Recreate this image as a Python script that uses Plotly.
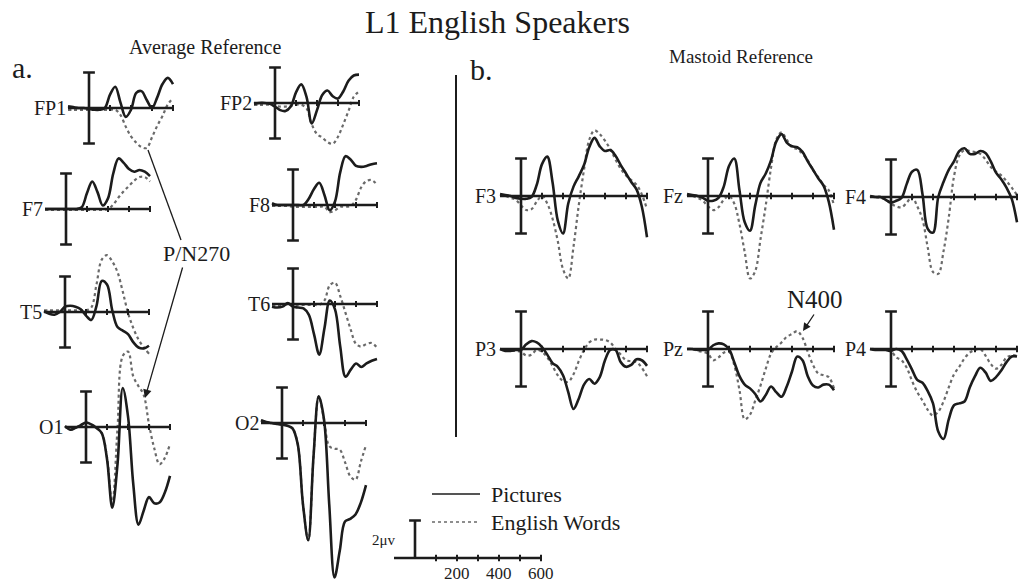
import plotly.graph_objects as go

# ---------- data (microvolts, negative plotted up) ----------
t_avg = list(range(-100, 401, 25))
t_mas = list(range(-100, 601, 25))

# Average reference (Pictures = solid, English Words = dotted)
fp1_pic = [-0.1, -0.05, 0.0, 0.0, 0.05, 0.1, 0.1, 0.0, -0.75, -1.2, -0.3, 0.5, 0.1, -0.85, -0.95, -0.45, 0.0, -0.6, -1.35, -1.7, -1.35]
fp1_wrd = [0.1, 0.1, 0.1, 0.1, 0.1, 0.1, 0.1, 0.1, 0.1, 0.1, 0.4, 1.05, 1.6, 1.95, 2.2, 2.25, 1.65, 1.0, 0.45, -0.2, -0.55]
fp2_pic = [0.05, 0.0, 0.0, 0.05, 0.2, 0.4, 0.45, 0.2, -0.6, -1.05, -0.35, 1.15, 0.4, -0.45, -0.7, -0.38, -0.25, -0.65, -1.25, -1.55, -1.6]
fp2_wrd = [0.1, 0.1, 0.1, 0.1, 0.15, 0.2, 0.2, 0.15, 0.1, 0.1, 0.3, 1.2, 1.75, 1.95, 2.2, 2.3, 1.9, 1.2, 0.45, -0.35, -0.65]
f7_pic = [0.0, 0.0, 0.0, 0.0, 0.0, 0.0, 0.0, -0.1, -0.9, -1.55, -0.95, -0.2, -0.6, -2.0, -2.85, -2.6, -2.25, -2.1, -2.2, -2.1, -1.85]
f7_wrd = [0.05, 0.05, 0.05, 0.05, 0.05, 0.05, 0.05, 0.05, 0.05, 0.05, 0.05, 0.05, 0.0, -0.25, -0.65, -1.0, -1.3, -1.6, -1.8, -1.8, -1.55]
f8_pic = [-0.1, 0.0, 0.0, 0.0, 0.0, 0.0, 0.0, -0.35, -0.9, -1.25, -0.55, 0.3, -0.2, -1.85, -2.75, -2.55, -2.2, -2.15, -2.2, -2.3, -2.35]
f8_wrd = [0.05, 0.05, 0.05, 0.05, 0.1, 0.1, 0.1, 0.1, 0.1, 0.1, 0.1, 0.4, 0.3, 0.1, 0.1, 0.05, -0.3, -1.0, -1.35, -1.4, -1.15]
t5_pic = [-0.05, 0.1, 0.15, 0.0, -0.3, -0.35, -0.3, -0.15, 0.2, 0.45, -0.35, -1.75, -1.55, -0.1, 0.85, 1.05, 1.25, 1.7, 2.0, 2.05, 1.9]
t5_wrd = [-0.1, -0.1, -0.1, -0.1, -0.1, -0.1, -0.1, -0.1, -0.1, -0.25, -1.55, -2.95, -3.2, -2.85, -2.25, -1.15, 0.05, 0.9, 1.55, 2.0, 2.35]
t6_pic = [0.15, 0.2, 0.15, -0.05, 0.15, 0.2, 0.25, 0.6, 1.7, 2.85, 1.35, -0.2, 0.3, 2.4, 4.1, 3.7, 3.35, 3.55, 3.35, 3.2, 3.1]
t6_wrd = [0.1, 0.1, 0.1, 0.0, 0.05, 0.05, 0.05, 0.05, 0.05, 0.05, -0.2, -1.05, -1.2, -0.45, 0.5, 1.45, 2.25, 2.4, 2.25, 2.2, 2.45]
o1_pic = [-0.05, 0.15, 0.05, -0.1, -0.25, -0.15, 0.05, 0.35, 1.8, 4.55, 2.1, -2.2, -0.6, 3.2, 5.5, 4.7, 3.95, 4.3, 4.25, 3.7, 2.75]
o1_wrd = [-0.05, 0.15, 0.05, -0.1, -0.25, -0.15, 0.05, 0.35, 1.7, 4.35, 0.1, -4.0, -4.25, -2.85, -2.3, -1.8, -0.15, 1.2, 2.1, 1.75, 0.95]
o2_pic = [-0.15, -0.05, 0.0, 0.05, 0.1, 0.15, 0.3, 1.2, 4.6, 6.6, 1.9, -1.5, -0.2, 4.6, 8.7, 7.2, 5.55, 5.4, 5.15, 4.5, 3.5]
o2_wrd = [-0.15, -0.05, 0.0, 0.05, 0.1, 0.15, 0.3, 1.2, 4.6, 6.6, 1.9, -1.5, -0.2, 1.3, 1.45, 1.5, 2.2, 3.0, 3.2, 2.2, 1.25]

# Mastoid reference
f3_pic = [-0.1, -0.05, 0.0, 0.1, 0.15, 0.15, 0.05, -0.6, -1.7, -2.1, -0.75, 1.3, 2.0, 0.4, -0.5, -1.05, -1.65, -2.6, -3.1, -2.65, -2.4, -2.45, -2.15, -1.65, -1.2, -0.75, -0.35, 0.55, 2.2]
f3_wrd = [0.0, 0.0, 0.1, 0.2, 0.5, 0.75, 0.7, 0.3, 0.0, 0.4, 1.2, 2.4, 3.9, 4.4, 2.7, 0.5, -1.4, -3.0, -3.5, -3.3, -2.95, -2.5, -1.95, -1.45, -1.1, -0.85, -0.6, -0.1, 0.7]
fz_pic = [-0.1, -0.05, 0.0, 0.1, 0.25, 0.25, 0.1, -0.5, -1.6, -2.0, -0.3, 1.4, 1.85, 0.5, -0.7, -1.2, -1.9, -2.9, -3.3, -2.85, -2.65, -2.6, -2.35, -1.85, -1.4, -0.95, -0.55, 0.3, 1.8]
fz_wrd = [0.0, 0.0, 0.1, 0.25, 0.55, 0.75, 0.6, 0.2, 0.0, 0.4, 1.5, 3.0, 4.4, 4.0, 2.3, 0.5, -1.5, -3.0, -3.4, -3.0, -2.6, -2.5, -2.25, -1.9, -1.4, -1.0, -0.6, -0.3, 0.5]
f4_pic = [-0.05, 0.0, 0.0, 0.15, 0.3, 0.2, 0.05, -0.7, -1.35, -1.45, -0.15, 1.7, 1.9, 0.0, -0.8, -1.45, -1.9, -2.45, -2.6, -2.3, -2.3, -2.45, -2.35, -1.9, -1.3, -0.95, -0.5, 0.1, 1.35]
f4_wrd = [0.0, 0.0, 0.05, 0.15, 0.35, 0.5, 0.55, 0.3, 0.0, 0.5, 1.2, 2.7, 4.0, 4.1, 2.9, 1.1, -1.1, -2.2, -2.5, -2.45, -2.4, -2.3, -2.0, -1.6, -1.35, -1.15, -0.85, -0.5, -0.1]
p3_pic = [0.0, 0.1, 0.1, 0.05, 0.05, -0.25, -0.42, -0.35, -0.1, 0.3, 0.75, 0.95, 1.4, 2.3, 3.2, 2.65, 1.9, 1.6, 1.85, 1.5, 0.6, 0.05, 0.05, 0.7, 0.95, 0.85, 0.55, 0.6, 0.9]
p3_wrd = [0.0, 0.05, 0.1, 0.1, 0.15, 0.35, 0.3, 0.05, 0.15, 0.45, 0.9, 1.4, 1.7, 1.75, 1.35, 0.65, 0.05, -0.35, -0.5, -0.5, -0.48, -0.35, 0.0, 0.3, 0.6, 0.65, 0.7, 1.0, 1.45]
pz_pic = [0.0, 0.0, 0.05, 0.05, 0.05, -0.2, -0.3, -0.25, 0.0, 0.7, 1.45, 1.9, 2.1, 2.4, 2.8, 2.45, 2.0, 2.3, 2.55, 2.0, 1.2, 0.4, 0.6, 1.45, 1.95, 2.05, 1.9, 1.9, 2.2]
pz_wrd = [0.0, 0.0, 0.1, 0.15, 0.25, 0.6, 0.45, 0.2, 0.15, 0.85, 2.2, 3.75, 3.5, 2.75, 1.95, 1.05, 0.25, -0.1, -0.35, -0.65, -0.8, -0.95, -0.6, 0.15, 0.85, 1.3, 1.4, 1.5, 2.1]
p4_pic = [0.0, 0.05, 0.05, 0.05, 0.1, 0.0, 0.1, 0.55, 1.1, 1.65, 1.8, 2.25, 2.9, 4.4, 4.8, 3.75, 3.0, 2.9, 2.8, 2.05, 1.45, 1.0, 1.25, 1.7, 1.5, 1.15, 0.7, 0.4, 0.4]
p4_wrd = [0.0, 0.0, 0.05, 0.05, 0.1, 0.45, 0.6, 1.0, 1.7, 2.3, 2.75, 3.25, 3.55, 3.35, 2.8, 2.05, 1.35, 0.95, 0.5, 0.2, 0.05, 0.0, 0.35, 0.8, 1.05, 0.85, 0.45, 0.35, 0.35]

scale_ticks = [200, 400, 600]

# ---------- layout helpers ----------
W, H = 1021, 587
INK = "#1c1c1c"
DOT = "#6a6a6a"
FONT = "Liberation Serif"

# name, origin x, origin y (pixels), reference, pictures, words
panels = [
    ("FP1", 89, 108, "avg", fp1_pic, fp1_wrd),
    ("FP2", 275, 103, "avg", fp2_pic, fp2_wrd),
    ("F7", 66, 209, "avg", f7_pic, f7_wrd),
    ("F8", 293, 205, "avg", f8_pic, f8_wrd),
    ("T5", 65, 312, "avg", t5_pic, t5_wrd),
    ("T6", 293, 304, "avg", t6_pic, t6_wrd),
    ("O1", 86, 427, "avg", o1_pic, o1_wrd),
    ("O2", 282, 423, "avg", o2_pic, o2_wrd),
    ("F3", 521, 196, "mas", f3_pic, f3_wrd),
    ("Fz", 708, 196, "mas", fz_pic, fz_wrd),
    ("F4", 891, 197, "mas", f4_pic, f4_wrd),
    ("P3", 521, 349, "mas", p3_pic, p3_wrd),
    ("Pz", 708, 349, "mas", pz_pic, pz_wrd),
    ("P4", 891, 349, "mas", p4_pic, p4_wrd),
]


def px(x):
    return x / W


def py(y):
    return 1 - y / H


def ax_names(i):
    if i == 1:
        return "x", "y", "xaxis", "yaxis"
    return f"x{i}", f"y{i}", f"xaxis{i}", f"yaxis{i}"


def add_axes(fig, i, ox, oy, sx, sy, xl, xr, yt, yb):
    xa, ya, xk, yk = ax_names(i)
    xr = min(xr, (W - ox) / sx - 0.5)
    yt = max(yt, -oy / sy + 0.02)
    yb = min(yb, (H - oy) / sy - 0.02)
    fig.update_layout({
        xk: dict(domain=[px(ox + xl * sx), px(ox + xr * sx)], range=[xl, xr],
                 anchor=ya, visible=False, fixedrange=True),
        yk: dict(domain=[py(oy + yb * sy), py(oy + yt * sy)], range=[yb, yt],
                 anchor=xa, visible=False, fixedrange=True),
    })
    return xa, ya


def cross(shapes, xa, ya, t_end, bar=2.0, x_start=-100, tick_h=0.17):
    ln = dict(color=INK, width=2.6)
    shapes.append(dict(type="line", xref=xa, yref=ya, x0=x_start, x1=t_end, y0=0, y1=0, line=ln))
    shapes.append(dict(type="line", xref=xa, yref=ya, x0=0, x1=0, y0=-bar, y1=bar, line=ln))
    for yb in (-bar, bar):
        shapes.append(dict(type="line", xref=xa, yref=ya, x0=-28, x1=28, y0=yb, y1=yb, line=ln))
    for tk in range(100, t_end + 1, 100):
        shapes.append(dict(type="line", xref=xa, yref=ya, x0=tk, x1=tk,
                           y0=-tick_h, y1=tick_h, line=dict(color=INK, width=2)))


def note(text, x, y, size, xanchor="center"):
    return dict(text=text, xref="paper", yref="paper", x=px(x), y=py(y),
                xanchor=xanchor, yanchor="middle", showarrow=False,
                font=dict(family=FONT, size=size, color=INK))


fig = go.Figure()
shapes = []
annotations = []

for i, (name, ox, oy, ref, pic, wrd) in enumerate(panels, start=1):
    t = t_avg if ref == "avg" else t_mas
    sy = 17.75 if ref == "avg" else 18.75
    xa, ya = add_axes(fig, i, ox, oy, 0.21, sy, -150, t[-1] + 40, -5.5, 9.5)
    fig.add_trace(go.Scatter(x=t, y=wrd, xaxis=xa, yaxis=ya, mode="lines", hoverinfo="skip",
                             line=dict(color=DOT, width=2.2, dash="dot", shape="spline")))
    fig.add_trace(go.Scatter(x=t, y=pic, xaxis=xa, yaxis=ya, mode="lines", hoverinfo="skip",
                             line=dict(color=INK, width=2.6, shape="spline")))
    cross(shapes, xa, ya, t[-1])
    annotations.append(dict(text=name, xref=xa, yref=ya, x=-100 if ref == "avg" else -108, y=0,
                            xanchor="right", yanchor="middle", showarrow=False,
                            font=dict(family=FONT, size=20, color=INK)))

# scale bar panel
n = len(panels) + 1
xa, ya = add_axes(fig, n, 415, 558, 0.21, 18.75, -120, 640, -3, 1)
fig.add_trace(go.Scatter(x=[0, 600], y=[None, None], xaxis=xa, yaxis=ya, mode="lines", hoverinfo="skip"))
shapes.append(dict(type="line", xref=xa, yref=ya, x0=-100, x1=600, y0=0, y1=0, line=dict(color=INK, width=2.6)))
shapes.append(dict(type="line", xref=xa, yref=ya, x0=0, x1=0, y0=-2, y1=0, line=dict(color=INK, width=2.6)))
shapes.append(dict(type="line", xref=xa, yref=ya, x0=-28, x1=28, y0=-2, y1=-2, line=dict(color=INK, width=2.6)))
for tk in range(100, 601, 100):
    shapes.append(dict(type="line", xref=xa, yref=ya, x0=tk, x1=tk, y0=-0.17, y1=0.17,
                       line=dict(color=INK, width=2)))
for tk in scale_ticks:
    annotations.append(dict(text=str(tk), xref=xa, yref=ya, x=tk, y=0.22, xanchor="center", yanchor="top",
                            showarrow=False, font=dict(family=FONT, size=17, color=INK)))
annotations.append(dict(text="2\u03bcv", xref=xa, yref=ya, x=-80, y=-0.95, xanchor="right", yanchor="middle",
                        showarrow=False, font=dict(family=FONT, size=15, color=INK)))

# legend samples
shapes.append(dict(type="line", xref="paper", yref="paper", x0=px(432), x1=px(480), y0=py(494), y1=py(494),
                   line=dict(color=INK, width=1.6)))
shapes.append(dict(type="line", xref="paper", yref="paper", x0=px(432), x1=px(480), y0=py(522), y1=py(522),
                   line=dict(color=DOT, width=1.6, dash="dot")))
annotations.append(note("Pictures", 489, 494, 22, "left"))
annotations.append(note("English Words", 489, 522, 22, "left"))

# divider between a. and b.
shapes.append(dict(type="line", xref="paper", yref="paper", x0=px(456), x1=px(456), y0=py(75), y1=py(437),
                   line=dict(color=INK, width=2)))

# P/N270 pointers
shapes.append(dict(type="line", xref="paper", yref="paper", x0=px(148), x1=px(181), y0=py(150), y1=py(240),
                   line=dict(color=INK, width=1.3)))
annotations.append(dict(text="", xref="paper", yref="paper", x=px(145), y=py(398),
                        ax=38, ay=-132, showarrow=True, arrowhead=2, arrowsize=1.3,
                        arrowwidth=1.3, arrowcolor=INK))
annotations.append(note("P/N270", 196, 253, 22))

# N400 pointer
annotations.append(dict(text="", xref="paper", yref="paper", x=px(803), y=py(331),
                        ax=12, ay=-18, showarrow=True, arrowhead=2, arrowsize=1.2,
                        arrowwidth=1.3, arrowcolor=INK))
annotations.append(note("N400", 815, 299, 25))

# titles
annotations.append(note("L1 English Speakers", 497, 22, 32))
annotations.append(note("Average Reference", 205, 48, 20))
annotations.append(note("Mastoid Reference", 741, 57, 19))
annotations.append(note("a.", 22, 68, 30))
annotations.append(note("b.", 481, 70, 30))

fig.update_layout(
    width=W, height=H,
    margin=dict(l=0, r=0, t=0, b=0),
    paper_bgcolor="white", plot_bgcolor="rgba(0,0,0,0)",
    showlegend=False,
    shapes=shapes, annotations=annotations,
)

fig.write_html("out.html", config={"displayModeBar": False},
               post_script="document.body.style.margin='0px';")
